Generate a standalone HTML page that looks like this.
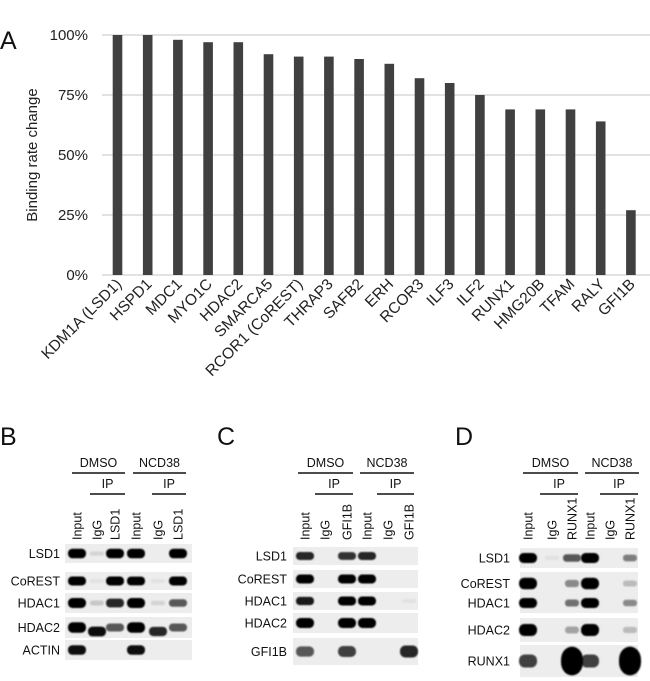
<!DOCTYPE html>
<html><head><meta charset="utf-8">
<style>
html,body{margin:0;padding:0;background:#fff;}
svg{display:block;font-family:"Liberation Sans",Arial,sans-serif;}
</style></head>
<body>
<svg id="fig" width="650" height="681" viewBox="0 0 650 681">
<defs><filter id="blur" x="-50%" y="-50%" width="200%" height="200%"><feGaussianBlur stdDeviation="0.9"/></filter></defs>
<text x="0" y="49" font-size="25" fill="#111">A</text>
<text transform="translate(37,155) rotate(-90)" text-anchor="middle" font-size="15" fill="#222">Binding rate change</text>
<g id="chart"></g>
<g id="blots"></g>
</svg>
<script>
const categories = ["KDM1A (LSD1)","HSPD1","MDC1","MYO1C","HDAC2","SMARCA5","RCOR1 (CoREST)","THRAP3","SAFB2","ERH","RCOR3","ILF3","ILF2","RUNX1","HMG20B","TFAM","RALY","GFI1B"];
const values = [100,100,98,97,97,92,91,91,90,88,82,80,75,69,69,69,64,27];
const tickValues = [0,25,50,75,100];
const tickLabels = ["0%","25%","50%","75%","100%"];

const NS="http://www.w3.org/2000/svg";
function mk(tag,attrs,parent){const e=document.createElementNS(NS,tag);for(const k in attrs)e.setAttribute(k,attrs[k]);parent.appendChild(e);return e;}
const y0=275,y1=35;
function yScale(v){return y0-(v/100)*(y0-y1);}
const xStart=117.5,step=30.2;
function xScale(i){return xStart+i*step;}
const chart=document.getElementById('chart');
tickValues.forEach((t,i)=>{
  const l=mk('line',{x1:102,x2:650,y1:yScale(t),y2:yScale(t),stroke:'#d9d9d9','stroke-width':1.5},chart);
  
  
  const tx=mk('text',{x:88,y:yScale(t)+5,'text-anchor':'end','font-size':15,fill:'#222'},chart);
  tx.textContent=tickLabels[i];
  
  
});
categories.forEach((c,i)=>{
  const x=xScale(i);
  const r=mk('rect',{x:x-4.8,y:yScale(values[i]),width:9.6,height:y0-yScale(values[i]),fill:'#404040'},chart);
  
  
  const t=mk('text',{transform:`translate(${x+5},${285}) rotate(-45)`,'text-anchor':'end','font-size':15.5,fill:'#222'},chart);
  t.textContent=c;
  
  
});

const panels=[
 {letter:'B',lx:0,ip:'LSD1',lanes:[77,97,115,136,158,178],box:[65,192],labelX:60,
  dmso:[72,125],ncd:[133,186],ipL:[[90,125],[152,186]],
  rows:[['LSD1',544,563,[1,.1,1,1,0,1]],['CoREST',572,590,[1,.05,1,.95,.05,1]],['HDAC1',593,613,[1,.15,.8,1,.1,.6]],['HDAC2',617,638,[1,.9,.6,1,.8,.6]],['ACTIN',640,660,[.9,0,0,.9,0,0]]]},
 {letter:'C',lx:217,ip:'GFI1B',lanes:[305,325,347,367,388,409],box:[293,418],labelX:287,
  dmso:[298,353],ncd:[360,414],ipL:[[315,353],[377,414]],
  rows:[['LSD1',547,565,[.8,0,.75,.8,0,0]],['CoREST',570,588,[1,0,1,1,0,0]],['HDAC1',592,610,[.85,0,1,1,0,.05]],['HDAC2',613,633,[1,0,1,1,0,0]],['GFI1B',638,665,[.6,0,.7,0,0,.8]]]},
 {letter:'D',lx:455,ip:'RUNX1',lanes:[528,552,572,590,610,630],box:[520,638],labelX:510,
  dmso:[523,578],ncd:[585,639],ipL:[[540,578],[600,638]],
  rows:[['LSD1',548,568,[1,.05,.6,1,0,.45]],['CoREST',572,595,[1,0,.4,1,0,.2]],['HDAC1',593,613,[1,0,.5,1,0,.4]],['HDAC2',618,642,[1,0,.3,1,0,.2]],['RUNX1',645,677,[.7,0,1,.7,0,1]]]}
];
const blots=document.getElementById('blots');
panels.forEach(p=>{
  const g=mk('g',{},blots);
  
  
  const L=mk('text',{x:p.lx,y:445,'font-size':25,fill:'#111'},g);L.textContent=p.letter;
  
  
  [[p.dmso,'DMSO'],[p.ncd,'NCD38']].forEach(([r,t])=>{
    mk('line',{x1:r[0],x2:r[1],y1:473,y2:473,stroke:'#111','stroke-width':1.5},g);
    const tt=mk('text',{x:(r[0]+r[1])/2,y:467,'text-anchor':'middle','font-size':12.5,fill:'#111'},g);tt.textContent=t;
    
    
  });
  p.ipL.forEach(r=>{
    mk('line',{x1:r[0],x2:r[1],y1:494,y2:494,stroke:'#111','stroke-width':1.5},g);
    const tt=mk('text',{x:(r[0]+r[1])/2,y:488,'text-anchor':'middle','font-size':12.5,fill:'#111'},g);tt.textContent='IP';
    
    
  });
  const laneNames=['Input','IgG',p.ip,'Input','IgG',p.ip];
  p.lanes.forEach((x,i)=>{
    const tt=mk('text',{transform:`translate(${x+4.5},540) rotate(-90)`,'font-size':12.5,fill:'#111'},g);tt.textContent=laneNames[i];
    
    
  });
  p.rows.forEach(r=>{
    const [name,top,bot,ints]=r;
    const rr=mk('rect',{x:p.box[0],y:top,width:p.box[1]-p.box[0],height:bot-top,fill:'#ededed'},g);
    
    
    const lt=mk('text',{x:p.labelX,y:(top+bot)/2+4.5,'text-anchor':'end','font-size':12.5,fill:'#111'},g);lt.textContent=name;
    
    
    ints.forEach((v,i)=>{
      if(v<=0.02)return;
      const h=(bot-top);
      const big=(name==='RUNX1'&&(i===2||i===5));
      const w=big?22:(v>0.5?18:14);
      const bh=big?h*0.9:h*(0.2+0.3*v);
      const cy=(top+bot)/2+((name==='HDAC2'&&i%3===1)?4:0);
      const e=mk('rect',{x:p.lanes[i]-w/2,y:cy-bh/2,width:w,height:bh,rx:bh/2.2,fill:'#000','fill-opacity':Math.min(1,v*1.05),filter:'url(#blur)'},g);
      
      
    });
  });
});
</script>
</body></html>
